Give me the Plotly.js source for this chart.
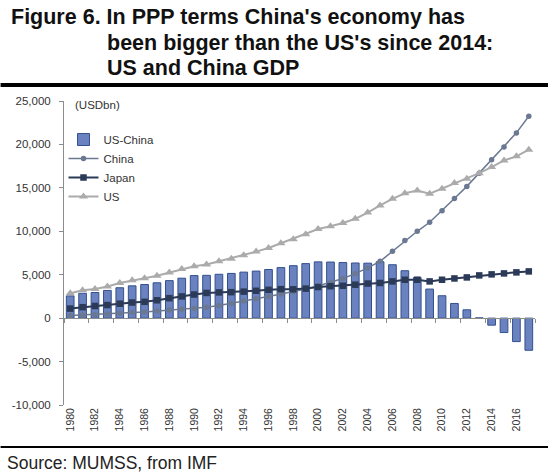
<!DOCTYPE html>
<html>
<head>
<meta charset="utf-8">
<script src="https://cdn.plot.ly/plotly-3.0.1.min.js"></script>
<style>
  html, body { margin: 0; padding: 0; background: #ffffff; }
  #chart { width: 548px; height: 475px; }
</style>
</head>
<body>
<div id="chart"></div>
<script>
// ---- data (USD bn, PPP) ----
var years = [1980, 1981, 1982, 1983, 1984, 1985, 1986, 1987, 1988, 1989,
             1990, 1991, 1992, 1993, 1994, 1995, 1996, 1997, 1998, 1999,
             2000, 2001, 2002, 2003, 2004, 2005, 2006, 2007, 2008, 2009,
             2010, 2011, 2012, 2013, 2014, 2015, 2016, 2017];

var usMinusChina = [2560, 2860, 2950, 3190, 3500, 3720, 3870, 4070, 4320, 4600,
                    4900, 4930, 5050, 5150, 5300, 5420, 5600, 5820, 6040, 6280,
                    6480, 6460, 6400, 6350, 6330, 6500, 6150, 5460, 4690, 3350,
                    2580, 1690, 960, 30, -810, -1660, -2700, -3700];

var china = [300, 355, 410, 470, 560, 650, 720, 830, 950, 1020,
             1100, 1245, 1460, 1700, 1960, 2230, 2500, 2790, 3040, 3340,
             3710, 4110, 4560, 5130, 5780, 6540, 7700, 8930, 10000, 11040,
             12360, 13780, 15170, 16690, 18230, 19700, 21330, 23250];

var japan = [1100, 1260, 1400, 1510, 1660, 1800, 1880, 2060, 2300, 2500,
             2720, 2900, 2960, 2990, 3050, 3150, 3260, 3340, 3320, 3400,
             3580, 3680, 3730, 3850, 3980, 4050, 4230, 4420, 4420, 4230,
             4420, 4570, 4690, 4920, 5040, 5150, 5270, 5380];

var us = [2860, 3210, 3345, 3640, 4040, 4350, 4590, 4870, 5250, 5660,
          5980, 6170, 6540, 6850, 7250, 7660, 8080, 8620, 9090, 9660,
          10260, 10590, 10960, 11440, 12150, 12970, 13740, 14380, 14700, 14320,
          14900, 15550, 16050, 16690, 17390, 18160, 18630, 19400];

var seriesNames = ["US-China", "China", "Japan", "US"];
var yTickVals = [-10000, -5000, 0, 5000, 10000, 15000, 20000, 25000];
var yTickText = ["-10,000", "-5,000", "0", "5,000", "10,000", "15,000", "20,000", "25,000"];
var xTickVals = [1980, 1982, 1984, 1986, 1988, 1990, 1992, 1994, 1996, 1998,
                 2000, 2002, 2004, 2006, 2008, 2010, 2012, 2014, 2016];
var xTickText = xTickVals.map(String);

var titleLines = ["Figure 6. In PPP terms China's economy has",
                  "been bigger than the US's since 2014:",
                  "US and China GDP"];
var unitLabel = "(USDbn)";
var sourceText = "Source: MUMSS, from IMF";

// ---- layout geometry ----
var W = 548, H = 475;
var M = {l: 63.5, r: 13, t: 101, b: 70};
var pw = W - M.l - M.r, ph = H - M.t - M.b;
function px(x) { return (x - M.l) / pw; }
function py(y) { return (H - M.b - y) / ph; }

var FONT = "Liberation Sans, Arial, Helvetica, sans-serif";

var traces = [
  {
    type: "bar", name: seriesNames[0], x: years, y: usMinusChina,
    width: 0.62,
    marker: {color: "#6a82bf", line: {color: "#34508e", width: 1}},
    hoverinfo: "x+y"
  },
  {
    type: "scatter", mode: "lines+markers", name: seriesNames[1], x: years, y: china,
    line: {color: "#6b7891", width: 1.5},
    marker: {symbol: "circle", size: 5.5, color: "#6b7891"}
  },
  {
    type: "scatter", mode: "lines+markers", name: seriesNames[2], x: years, y: japan,
    line: {color: "#2b3a57", width: 2},
    marker: {symbol: "square", size: 6.5, color: "#2b3a57"}
  },
  {
    type: "scatter", mode: "lines+markers", name: seriesNames[3], x: years, y: us,
    line: {color: "#ababab", width: 2},
    marker: {symbol: "triangle-up", size: 8, color: "#ababab"}
  },
  {
    // carrier for the category-boundary tick axis along the zero line
    type: "scatter", mode: "markers", x: [years[0]], y: [null],
    xaxis: "x2", yaxis: "y", showlegend: false, hoverinfo: "skip"
  }
];

var annotations = [
  {text: titleLines[0], x: px(8), y: py(17.5), xanchor: "left", yanchor: "middle",
   xref: "paper", yref: "paper", showarrow: false,
   font: {family: FONT, size: 21.5, color: "#111111", weight: "bold"}},
  {text: titleLines[1], x: px(105), y: py(42.5), xanchor: "left", yanchor: "middle",
   xref: "paper", yref: "paper", showarrow: false,
   font: {family: FONT, size: 21.5, color: "#111111", weight: "bold"}},
  {text: titleLines[2], x: px(105), y: py(67.5), xanchor: "left", yanchor: "middle",
   xref: "paper", yref: "paper", showarrow: false,
   font: {family: FONT, size: 21.5, color: "#111111", weight: "bold"}},
  {text: unitLabel, x: px(73), y: py(105), xanchor: "left", yanchor: "middle",
   xref: "paper", yref: "paper", showarrow: false,
   font: {family: FONT, size: 11.5, color: "#333333"}},
  {text: sourceText, x: px(4), y: py(462.5), xanchor: "left", yanchor: "middle",
   xref: "paper", yref: "paper", showarrow: false,
   font: {family: FONT, size: 17.5, color: "#222222"}}
];

var shapes = [
  {type: "line", xref: "paper", yref: "paper", x0: px(0), x1: px(W), y0: py(85), y1: py(85),
   line: {color: "#000000", width: 4}},
  {type: "line", xref: "paper", yref: "paper", x0: px(0), x1: px(W), y0: py(447), y1: py(447),
   line: {color: "#000000", width: 2}}
];

var layout = {
  width: W, height: H,
  margin: M,
  paper_bgcolor: "#ffffff", plot_bgcolor: "#ffffff",
  font: {family: FONT, size: 11.5, color: "#333333"},
  showlegend: true,
  legend: {
    x: px(63), y: py(125), xanchor: "left", yanchor: "top",
    bgcolor: "rgba(0,0,0,0)", borderwidth: 0,
    font: {family: FONT, size: 11.5, color: "#333333"},
    tracegroupgap: 0, itemwidth: 30
  },
  bargap: 0.35,
  xaxis: {
    type: "linear", range: [1979.5, 2017.5],
    tickmode: "array", tickvals: xTickVals, ticktext: xTickText,
    tickangle: -90, ticks: "", showline: false, showgrid: false, zeroline: false,
    tickfont: {family: FONT, size: 10.5, color: "#333333"},
    fixedrange: true
  },
  xaxis2: {
    type: "linear", overlaying: "x", matches: "x", anchor: "free",
    position: py(317.5), range: [1979.5, 2017.5],
    tickmode: "linear", tick0: 1979.5, dtick: 2,
    ticks: "outside", ticklen: 4, tickcolor: "#8c8c8c", tickwidth: 1,
    showticklabels: false, showline: true, linecolor: "#8c8c8c", linewidth: 1,
    showgrid: false, zeroline: false
  },
  yaxis: {
    range: [-10000, 25000],
    tickmode: "array", tickvals: yTickVals, ticktext: yTickText,
    ticks: "outside", ticklen: 4, tickcolor: "#8c8c8c",
    showline: true, linecolor: "#8c8c8c", linewidth: 1,
    showgrid: false, zeroline: false,
    tickfont: {family: FONT, size: 11.5, color: "#333333"},
    ticklabelstandoff: 6
  },
  annotations: annotations,
  shapes: shapes
};

Plotly.newPlot("chart", traces, layout, {displayModeBar: false, staticPlot: true});
</script>
</body>
</html>
